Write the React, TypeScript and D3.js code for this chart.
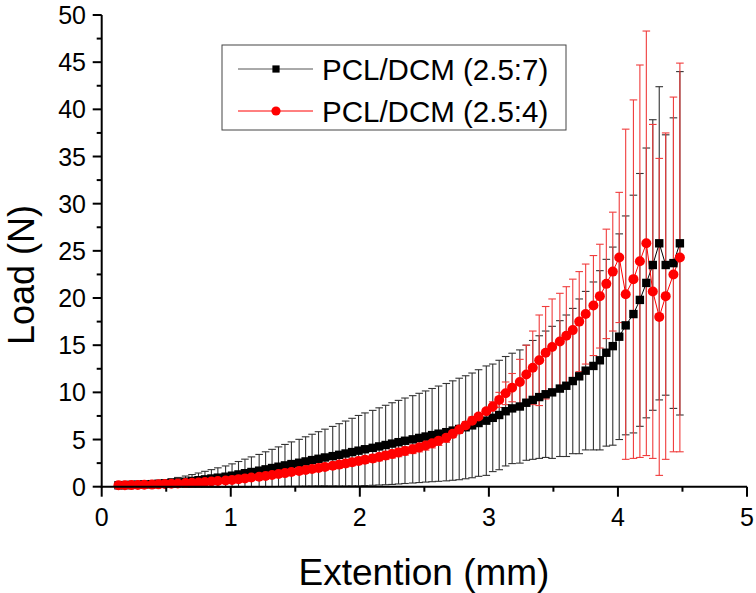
import React from "react";
import * as d3 from "d3";

// Extension (mm) sample positions
const extension = [
  0.13, 0.18, 0.23, 0.28, 0.33, 0.39, 0.44, 0.49, 0.54, 0.59,
  0.65, 0.70, 0.75, 0.80, 0.85, 0.90, 0.96, 1.01, 1.06, 1.11,
  1.16, 1.22, 1.27, 1.32, 1.37, 1.42, 1.47, 1.53, 1.58, 1.63,
  1.68, 1.73, 1.79, 1.84, 1.89, 1.94, 1.99, 2.04, 2.10, 2.15,
  2.20, 2.25, 2.30, 2.35, 2.41, 2.46, 2.51, 2.56, 2.61, 2.67,
  2.72, 2.77, 2.82, 2.87, 2.92, 2.98, 3.03, 3.08, 3.13, 3.18,
  3.24, 3.29, 3.34, 3.39, 3.44, 3.49, 3.55, 3.60, 3.65, 3.70,
  3.75, 3.81, 3.86, 3.91, 3.96, 4.01, 4.06, 4.12, 4.17, 4.22,
  4.27, 4.32, 4.37, 4.43, 4.48,
];

// PCL/DCM (2.5:7) mean load (N)
const load257 = [
  0.15, 0.17, 0.19, 0.21, 0.24, 0.27, 0.31, 0.35, 0.40, 0.46,
  0.53, 0.61, 0.69, 0.78, 0.87, 0.96, 1.06, 1.17, 1.30, 1.43,
  1.56, 1.70, 1.84, 1.98, 2.12, 2.26, 2.40, 2.54, 2.68, 2.82,
  2.96, 3.10, 3.24, 3.38, 3.52, 3.67, 3.82, 3.97, 4.12, 4.27,
  4.42, 4.57, 4.72, 4.87, 5.02, 5.17, 5.32, 5.47, 5.62, 5.78,
  5.95, 6.12, 6.30, 6.50, 6.75, 7.00, 7.30, 7.60, 8.00, 8.30,
  8.50, 8.90, 9.20, 9.50, 9.80, 10.0, 10.4, 10.7, 11.2, 11.7,
  12.3, 12.8, 13.4, 14.2, 14.9, 15.9, 17.1, 18.3, 19.8, 21.6,
  23.5, 25.8, 23.5, 23.7, 25.8,
];

// PCL/DCM (2.5:7) standard deviation (N)
const sd257 = [
  0.08, 0.10, 0.12, 0.15, 0.19, 0.24, 0.30, 0.37, 0.45, 0.52,
  0.60, 0.68, 0.76, 0.85, 0.94, 1.04, 1.14, 1.25, 1.37, 1.49,
  1.60, 1.72, 1.86, 1.98, 2.10, 2.22, 2.35, 2.48, 2.61, 2.74,
  2.87, 3.00, 3.15, 3.30, 3.44, 3.58, 3.73, 3.85, 3.97, 4.09,
  4.21, 4.33, 4.43, 4.53, 4.63, 4.73, 4.83, 4.94, 5.05, 5.16,
  5.27, 5.38, 5.46, 5.55, 5.65, 5.80, 5.70, 5.80, 5.80, 5.85,
  6.0, 6.1, 6.3, 6.5, 6.7, 7.0, 7.2, 7.5, 7.7, 8.2,
  8.4, 8.9, 9.5, 9.9, 10.5, 10.9, 11.6, 12.6, 13.4, 14.3,
  15.4, 16.6, 13.8, 15.4, 18.2,
];

// PCL/DCM (2.5:4) mean load (N)
const load254 = [
  0.15, 0.16, 0.17, 0.18, 0.20, 0.22, 0.25, 0.28, 0.31, 0.34,
  0.38, 0.42, 0.45, 0.50, 0.55, 0.60, 0.66, 0.72, 0.80, 0.88,
  0.97, 1.05, 1.14, 1.24, 1.34, 1.44, 1.55, 1.66, 1.77, 1.88,
  1.99, 2.10, 2.22, 2.34, 2.46, 2.59, 2.72, 2.86, 3.00, 3.15,
  3.30, 3.46, 3.62, 3.79, 3.97, 4.16, 4.36, 4.60, 4.87, 5.20,
  5.60, 6.05, 6.50, 7.00, 7.45, 8.00, 8.50, 9.20, 9.90, 10.5,
  11.1, 11.9, 12.6, 13.4, 14.2, 14.8, 15.4, 16.0, 16.6, 17.5,
  18.3, 19.2, 20.2, 21.5, 22.8, 24.3, 20.4, 22.0, 23.9, 25.8,
  20.7, 18.0, 20.2, 22.5, 24.3,
];

// PCL/DCM (2.5:4) standard deviation (N)
const sd254 = [
  0.05, 0.05, 0.05, 0.06, 0.06, 0.07, 0.08, 0.09, 0.10, 0.11,
  0.12, 0.13, 0.14, 0.15, 0.16, 0.17, 0.18, 0.19, 0.20, 0.21,
  0.22, 0.23, 0.24, 0.25, 0.26, 0.27, 0.28, 0.29, 0.30, 0.31,
  0.32, 0.33, 0.34, 0.35, 0.36, 0.37, 0.38, 0.39, 0.40, 0.41,
  0.42, 0.43, 0.44, 0.45, 0.46, 0.47, 0.48, 0.49, 0.50, 0.50,
  0.40, 0.40, 0.40, 0.40, 0.30, 0.30, 0.50, 0.80, 1.2, 1.5,
  2.4, 3.1, 3.9, 4.8, 4.9, 5.1, 5.1, 5.2, 5.4, 5.3,
  5.3, 5.3, 5.5, 5.8, 6.3, 6.9, 17.5, 19.0, 20.8, 22.5,
  17.7, 16.8, 17.3, 18.8, 20.6,
];

const seriesNames = ["PCL/DCM (2.5:7)", "PCL/DCM (2.5:4)"];
const xTicks = [0, 1, 2, 3, 4, 5];
const xMinorTicks = [0.5, 1.5, 2.5, 3.5, 4.5];
const yTicks = [0, 5, 10, 15, 20, 25, 30, 35, 40, 45, 50];
const yMinorTicks = [2.5, 7.5, 12.5, 17.5, 22.5, 27.5, 32.5, 37.5, 42.5, 47.5];
const xTitle = "Extention (mm)";
const yTitle = "Load (N)";

const FONT = "'Liberation Sans', Arial, Helvetica, sans-serif";

export default function App() {
  const W = 756;
  const H = 593;
  const x = d3.scaleLinear().domain([0, 5]).range([101.7, 747]);
  const y = d3.scaleLinear().domain([0, 50]).range([486.7, 15]);

  const pts257 = extension.map((e, i) => ({ x: e, m: load257[i], s: sd257[i] }));
  const pts254 = extension.map((e, i) => ({ x: e, m: load254[i], s: sd254[i] }));

  const line = d3
    .line<{ x: number; m: number }>()
    .x((d) => x(d.x))
    .y((d) => y(d.m));

  const capHalf = 3.8;

  const errorBars = (pts: { x: number; m: number; s: number }[], color: string, key: string) => (
    <g stroke={color} strokeWidth={1.1} fill="none">
      {pts.map((d, i) => {
        const cx = x(d.x);
        const yt = y(d.m + d.s);
        const yb = y(d.m - d.s);
        return (
          <g key={key + i}>
            <line x1={cx} x2={cx} y1={yt} y2={yb} />
            <line x1={cx - capHalf} x2={cx + capHalf} y1={yt} y2={yt} />
            <line x1={cx - capHalf} x2={cx + capHalf} y1={yb} y2={yb} />
          </g>
        );
      })}
    </g>
  );

  const sq = 8.4;
  const r = 5;

  return (
    <div style={{ position: "absolute", left: 0, top: 0 }}>
      <svg width={W} height={H} viewBox={`0 0 ${W} ${H}`} style={{ display: "block", background: "#fff" }}>
        <rect x={0} y={0} width={W} height={H} fill="#fff" />

        {/* error bars */}
        {errorBars(pts257, "#333333", "b")}
        {errorBars(pts254, "#f03c3c", "r")}

        {/* lines */}
        <path d={line(pts257) || ""} fill="none" stroke="#000" strokeWidth={1} />
        <path d={line(pts254) || ""} fill="none" stroke="#ff0000" strokeWidth={1} />

        {/* markers */}
        <g fill="#000">
          {pts257.map((d, i) => (
            <rect key={"bs" + i} x={x(d.x) - sq / 2} y={y(d.m) - sq / 2} width={sq} height={sq} />
          ))}
        </g>
        <g fill="#ff0000">
          {pts254.map((d, i) => (
            <circle key={"rc" + i} cx={x(d.x)} cy={y(d.m)} r={r} />
          ))}
        </g>

        {/* axes */}
        <g stroke="#000" strokeWidth={2} fill="none">
          <line x1={x(0)} x2={x(0)} y1={y(50)} y2={y(0) + 1} />
          <line x1={x(0) - 1} x2={x(5)} y1={y(0)} y2={y(0)} />
          {yTicks.map((t) => (
            <line key={"yt" + t} x1={x(0) - 9} x2={x(0)} y1={y(t)} y2={y(t)} />
          ))}
          {yMinorTicks.map((t) => (
            <line key={"ym" + t} x1={x(0) - 5} x2={x(0)} y1={y(t)} y2={y(t)} />
          ))}
          {xTicks.map((t) => (
            <line key={"xt" + t} x1={x(t)} x2={x(t)} y1={y(0)} y2={y(0) + 10} />
          ))}
          {xMinorTicks.map((t) => (
            <line key={"xm" + t} x1={x(t)} x2={x(t)} y1={y(0)} y2={y(0) + 5} />
          ))}
        </g>

        <g fontFamily={FONT} fontSize={25} fill="#000">
          {yTicks.map((t) => (
            <text key={"yl" + t} x={86} y={y(t)} textAnchor="end" dominantBaseline="central">
              {t}
            </text>
          ))}
          {xTicks.map((t) => (
            <text key={"xl" + t} x={x(t)} y={526} textAnchor="middle">
              {t}
            </text>
          ))}
        </g>

        <text x={424} y={585} textAnchor="middle" fontFamily={FONT} fontSize={37} fill="#000">
          {xTitle}
        </text>
        <text
          transform={`translate(34, 275) rotate(-90)`}
          textAnchor="middle"
          fontFamily={FONT}
          fontSize={36}
          fill="#000"
        >
          {yTitle}
        </text>

        {/* legend */}
        <rect x={222} y={45} width={344} height={85} fill="#fff" stroke="#444" strokeWidth={1} />
        <g>
          <line x1={238} x2={313} y1={69} y2={69} stroke="#555" strokeWidth={1} />
          <rect x={276 - 3.6} y={69 - 3.6} width={7.2} height={7.2} fill="#000" />
          <text x={322} y={80} fontFamily={FONT} fontSize={29.5} fill="#000">
            {seriesNames[0]}
          </text>
          <line x1={238} x2={313} y1={111} y2={111} stroke="#ff0000" strokeWidth={1} />
          <circle cx={276} cy={111} r={4.6} fill="#ff0000" />
          <text x={322} y={122} fontFamily={FONT} fontSize={29.5} fill="#000">
            {seriesNames[1]}
          </text>
        </g>
      </svg>
    </div>
  );
}
